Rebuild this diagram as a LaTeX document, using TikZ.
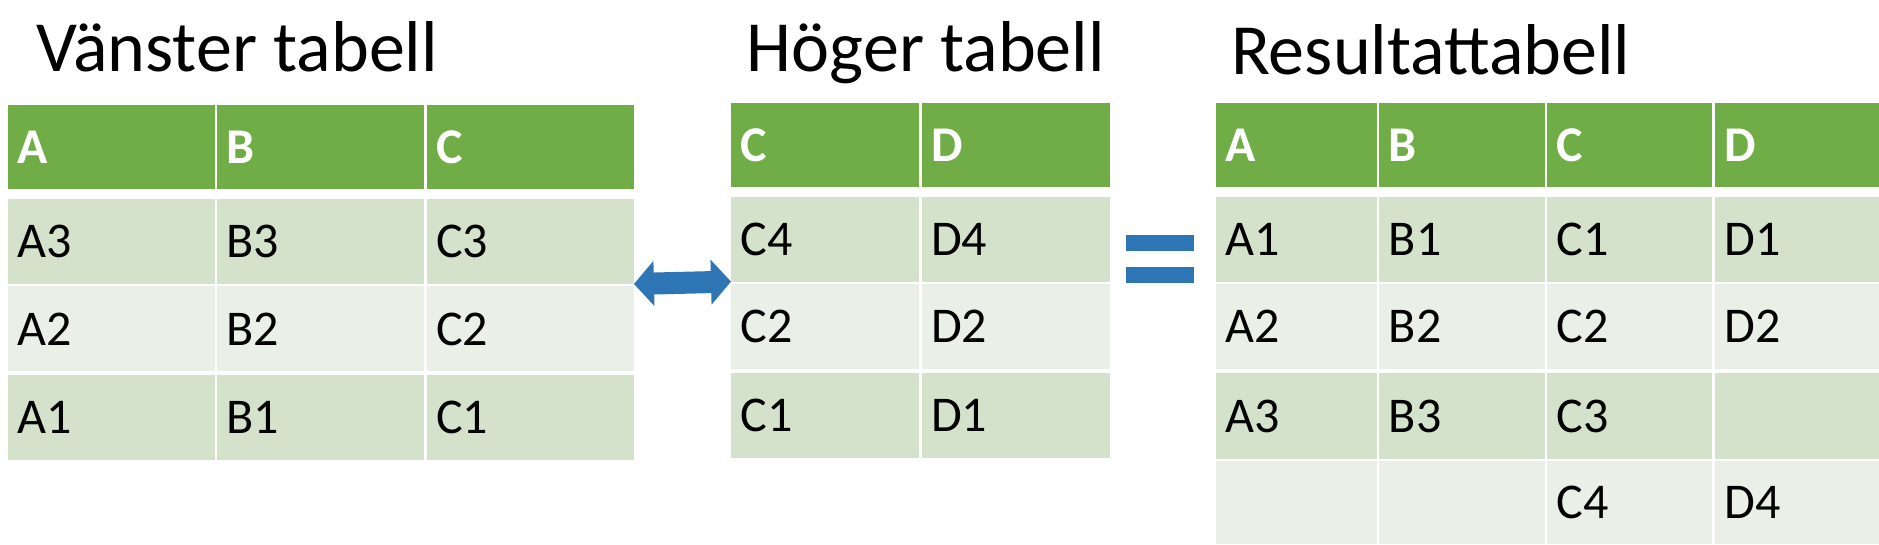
\documentclass[tikz,border=0pt]{standalone}
\usepackage{fontspec}
\setmainfont{Carlito}
\usetikzlibrary{arrows.meta, positioning}
\definecolor{headcolor}{RGB}{112, 173, 71}
\definecolor{darkrow}{RGB}{212, 226, 204}
\definecolor{lightrow}{RGB}{234, 240, 231}
\definecolor{linkcolor}{RGB}{46, 117, 182}
\def\u{0.599pt}
\tikzset{
    % Base cell
    cell/.style={
        anchor=north west, inner sep=0pt, outer sep=0pt,
        font=\fontsize{25}{25}\selectfont, text depth=0pt,
        align=left
    },
    headcell/.style={cell, fill=headcolor, text=white, font=\fontsize{25}{25}\selectfont\bfseries},
    darkcell/.style={cell, fill=darkrow},
    lightcell/.style={cell, fill=lightrow},
    % Titles
    title/.style={anchor=base west, inner sep=0pt, font=\fontsize{36}{36}\selectfont},
    % Connector
    joinarrow/.style={{Triangle[length=10pt,width=22pt]}-{Triangle[length=10pt,width=22pt]}, line width=11pt, linkcolor},
    eqbar/.style={fill=linkcolor, inner sep=0pt, minimum width={56*\u}, minimum height={13*\u}}
}
% #1 name, #2 x, #3 y, #4 width, #5 height, #6 style, #7 text
\newcommand{\tcell}[7]{%
  \node (#1) [#6, minimum width={#4*\u}, minimum height={#5*\u}, text width={(#4-16)*\u}] at (#2,#3) {\hspace*{0pt}#7};
}

\begin{document}
\begin{tikzpicture}[x=\u, y=-\u]
\useasboundingbox (0,0) rectangle (1568,454);

% ===== Titles =====
\node (ltitle) [title] at (30,60) {Vänster tabell};
\node (rtitle) [title] at (623,60) {Höger tabell};
\node (restitle) [title] at (1027,62) {Resultattabell};

% ===== Left table =====
\tcell{lA}{7}{88}{172}{70}{headcell}{A}
\tcell{lB}{181}{88}{173}{70}{headcell}{B}
\tcell{lC}{356}{88}{173}{70}{headcell}{C}
\foreach \r/\y/\s in {3/166/darkcell, 2/239/lightcell, 1/313/darkcell} {
  \tcell{lA\r}{7}{\y}{172}{71}{\s}{A\r}
  \tcell{lB\r}{181}{\y}{173}{71}{\s}{B\r}
  \tcell{lC\r}{356}{\y}{173}{71}{\s}{C\r}
}

% ===== Right-hand input table =====
\tcell{mC}{610}{86}{157}{70}{headcell}{C}
\tcell{mD}{769}{86}{157}{70}{headcell}{D}
\foreach \r/\y/\s in {4/164/darkcell, 2/237/lightcell, 1/311/darkcell} {
  \tcell{mC\r}{610}{\y}{157}{71}{\s}{C\r}
  \tcell{mD\r}{769}{\y}{157}{71}{\s}{D\r}
}

% ===== Result table =====
\tcell{rA}{1015}{86}{134}{70}{headcell}{A}
\tcell{rB}{1151}{86}{138}{70}{headcell}{B}
\tcell{rC}{1291}{86}{138}{70}{headcell}{C}
\tcell{rD}{1431}{86}{137}{70}{headcell}{D}
\foreach \r/\y/\s in {1/164/darkcell, 2/237/lightcell} {
  \tcell{rA\r}{1015}{\y}{134}{71}{\s}{A\r}
  \tcell{rB\r}{1151}{\y}{138}{71}{\s}{B\r}
  \tcell{rC\r}{1291}{\y}{138}{71}{\s}{C\r}
  \tcell{rD\r}{1431}{\y}{137}{71}{\s}{D\r}
}
\tcell{rA3}{1015}{311}{134}{72}{darkcell}{A3}
\tcell{rB3}{1151}{311}{138}{72}{darkcell}{B3}
\tcell{rC3}{1291}{311}{138}{72}{darkcell}{C3}
\tcell{rD3}{1431}{311}{137}{72}{darkcell}{}
\tcell{rA4}{1015}{385}{134}{69}{lightcell}{}
\tcell{rB4}{1151}{385}{138}{69}{lightcell}{}
\tcell{rC4}{1291}{385}{138}{69}{lightcell}{C4}
\tcell{rD4}{1431}{385}{137}{69}{lightcell}{D4}

% ===== Join and result signs =====
\coordinate (joinL) at (lC3.south east);
\coordinate (joinR) at (mC4.south west);
\draw[joinarrow] (joinL) -- (joinR);
\node (eqtop) [eqbar] at (968,203) {};
\node (eqbot) [eqbar, below=13*\u of eqtop] {};

\end{tikzpicture}
\end{document}
